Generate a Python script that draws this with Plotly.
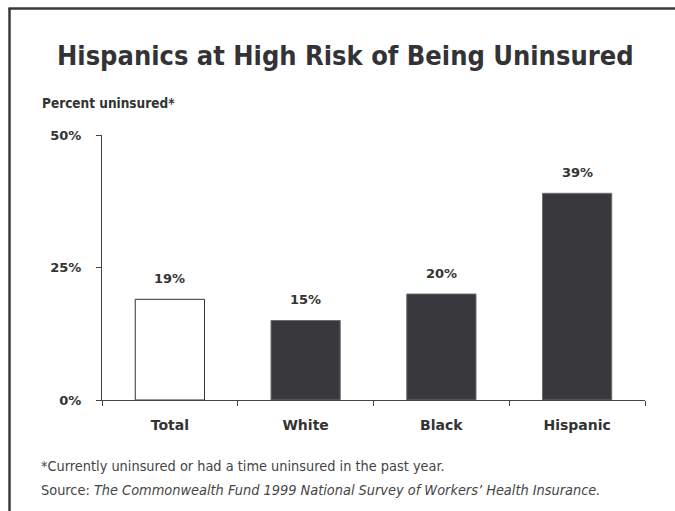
import plotly.graph_objects as go

categories = ["Total", "White", "Black", "Hispanic"]
values = [19, 15, 20, 39]
y_ticks = [0, 25, 50]
y_tick_labels = ["0%", "25%", "50%"]
title_text = "Hispanics at High Risk of Being Uninsured"
ylabel_text = "Percent uninsured*"
note_text = "*Currently uninsured or had a time uninsured in the past year."
source_text = "Source: <i>The Commonwealth Fund 1999 National Survey of Workers\u2019 Health Insurance.</i>"

W, H = 675, 511
ML, MR, MT, MB = 102, 30, 135, 111
PW, PH = W - ML - MR, H - MT - MB


def px(x):
    return (x - ML) / PW


def py(y):
    return (H - MB - y) / PH


dark = "#39383d"
txt = "#333333"
fill_colors = ["#ffffff" if c == "Total" else dark for c in categories]
line_colors = ["#333333" if c == "Total" else "#6e6e72" for c in categories]

fig = go.Figure()
fig.add_trace(go.Bar(
    x=categories, y=values,
    marker=dict(color=fill_colors, line=dict(color=line_colors, width=1)),
    width=0.51,
    hoverinfo="skip",
))

bold_font = "DejaVu Sans"
narrow = "DejaVu Sans Condensed, sans-serif"

annotations = []
for c, v in zip(categories, values):
    annotations.append(dict(
        x=c, y=v, xref="x", yref="y", text=f"<b>{v}%</b>", showarrow=False,
        yshift=21, yanchor="middle", xanchor="center",
        font=dict(family=bold_font, size=13, color=txt),
    ))

annotations += [
    dict(x=px(345.5), y=py(55), xref="paper", yref="paper", text=f"<b>{title_text}</b>",
         showarrow=False, xanchor="center", yanchor="middle",
         font=dict(family=narrow, size=27, color="#333236")),
    dict(x=px(40), y=py(103), xref="paper", yref="paper", text=f"<b>{ylabel_text}</b>",
         showarrow=False, xanchor="left", yanchor="middle",
         font=dict(family=narrow, size=13.5, color=txt)),
    dict(x=px(39), y=py(466), xref="paper", yref="paper", text=note_text,
         showarrow=False, xanchor="left", yanchor="middle",
         font=dict(family=narrow, size=14.4, color="#444444")),
    dict(x=px(39), y=py(490), xref="paper", yref="paper", text=source_text,
         showarrow=False, xanchor="left", yanchor="middle",
         font=dict(family=narrow, size=14.4, color="#444444")),
]

shapes = [
    dict(type="line", xref="paper", yref="paper", x0=px(8.5), x1=px(720), y0=py(8.5), y1=py(8.5),
         line=dict(color="#3a3a3a", width=2.5)),
    dict(type="line", xref="paper", yref="paper", x0=px(9.5), x1=px(9.5), y0=py(8), y1=py(540),
         line=dict(color="#3a3a3a", width=2.5)),
]

fig.update_layout(
    width=W, height=H,
    margin=dict(l=ML, r=MR, t=MT, b=MB, pad=0),
    paper_bgcolor="white", plot_bgcolor="white",
    showlegend=False,
    bargap=0.49,
    annotations=annotations,
    shapes=shapes,
)
fig.update_xaxes(
    type="category", range=[-0.5, 3.5],
    showline=True, linecolor="#444444", linewidth=1,
    ticks="outside", ticklen=5, tickcolor="#444444", tickson="boundaries",
    showgrid=False, zeroline=False,
    tickfont=dict(family=bold_font, size=14, color=txt),
    ticklabelstandoff=12,
    tickprefix="<b>", ticksuffix="</b>",
)
fig.update_yaxes(
    range=[0, 50], tickvals=y_ticks, ticktext=[f"<b>{t}</b>" for t in y_tick_labels],
    showline=True, linecolor="#444444", linewidth=1,
    ticks="outside", ticklen=5, tickcolor="#444444",
    showgrid=False, zeroline=False,
    tickfont=dict(family=bold_font, size=13, color=txt),
    ticklabelstandoff=12,
)

fig.write_html("out.html")
